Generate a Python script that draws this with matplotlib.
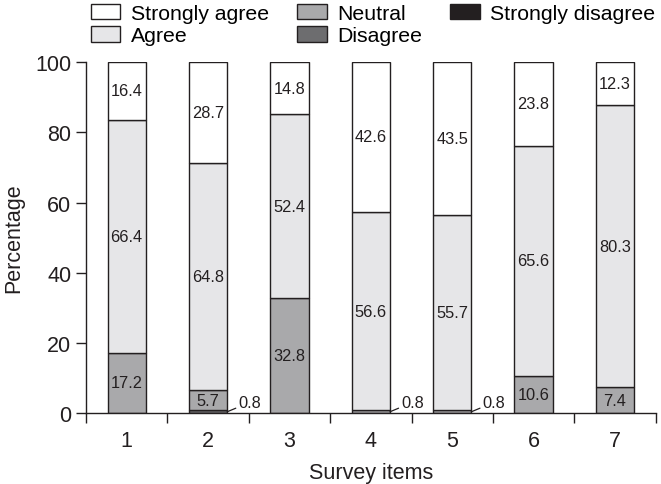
import matplotlib.pyplot as plt
import numpy as np

plt.rcParams['font.family'] = ['Liberation Sans', 'DejaVu Sans']

# survey data (percent), bottom to top of each stack
items = ['1', '2', '3', '4', '5', '6', '7']
strongly_disagree = [0, 0, 0, 0, 0, 0, 0]
disagree = [0, 0.8, 0, 0, 0, 0, 0]
neutral = [17.2, 5.7, 32.8, 0.8, 0.8, 10.6, 7.4]
agree = [66.4, 64.8, 52.4, 56.6, 55.7, 65.6, 80.3]
strongly_agree = [16.4, 28.7, 14.8, 42.6, 43.5, 23.8, 12.3]

series = [
    ('Strongly disagree', strongly_disagree, '#231f20'),
    ('Disagree', disagree, '#6d6d6f'),
    ('Neutral', neutral, '#a9a9ab'),
    ('Agree', agree, '#e6e6e8'),
    ('Strongly agree', strongly_agree, '#ffffff'),
]

fig = plt.figure(figsize=(6.61, 4.85), dpi=100)
ax = fig.add_axes([0.130, 0.146, 0.862, 0.724])

x = np.arange(len(items)) + 0.5
width = 0.47
bottom = np.zeros(len(items))
handles = {}
for name, vals, col in series:
    vals = np.array(vals)
    b = ax.bar(x, vals, width, bottom=bottom, color=col, edgecolor='#231f20',
               linewidth=1.0)
    handles[name] = b
    for i, v in enumerate(vals):
        if v >= 3:
            ax.text(x[i], bottom[i] + v / 2, f'{v:.1f}', ha='center', va='center',
                    fontsize=11.8, color='#231f20')
        elif v > 0:
            ax.annotate(f'{v:.1f}', xy=(x[i] + width / 2, bottom[i] + v / 2),
                        xytext=(x[i] + width / 2 + 0.14, 3.1), ha='left', va='center',
                        fontsize=11.8, color='#231f20',
                        arrowprops=dict(arrowstyle='-', color='#231f20', lw=0.9,
                                        shrinkA=0, shrinkB=0))
    bottom += vals

ax.set_xlim(0, 7)
ax.set_ylim(0, 100)
ax.set_yticks(np.arange(0, 101, 20))
ax.set_xticks(np.arange(0, 8))
ax.set_xticklabels([])
ax.set_xticks(x, minor=True)
ax.set_xticklabels(items, minor=True)
ax.tick_params(axis='x', which='minor', length=0, pad=12, labelsize=15.5,
               labelcolor='#231f20')
ax.tick_params(axis='x', which='major', length=7, width=1, color='#231f20')
ax.tick_params(axis='y', length=7, width=1, color='#231f20', labelsize=15.5,
               labelcolor='#231f20')
for s in ['top', 'right']:
    ax.spines[s].set_visible(False)
for s in ['left', 'bottom']:
    ax.spines[s].set_linewidth(1)
    ax.spines[s].set_color('#231f20')

ax.set_ylabel('Percentage', fontsize=15.5, color='#231f20', labelpad=8)
ax.set_xlabel('Survey items', fontsize=15.5, color='#231f20', labelpad=8)

order = ['Strongly agree', 'Agree', 'Neutral', 'Disagree', 'Strongly disagree']
fig.legend([handles[n] for n in order], order, ncol=3, frameon=False,
           loc='upper left', bbox_to_anchor=(0.137, 0.99), fontsize=15.3,
           handlelength=1.4, handleheight=0.75, handletextpad=0.5,
           columnspacing=1.31, labelspacing=0.15, borderaxespad=0,
           borderpad=0)

fig.savefig('out.png', dpi=100)
